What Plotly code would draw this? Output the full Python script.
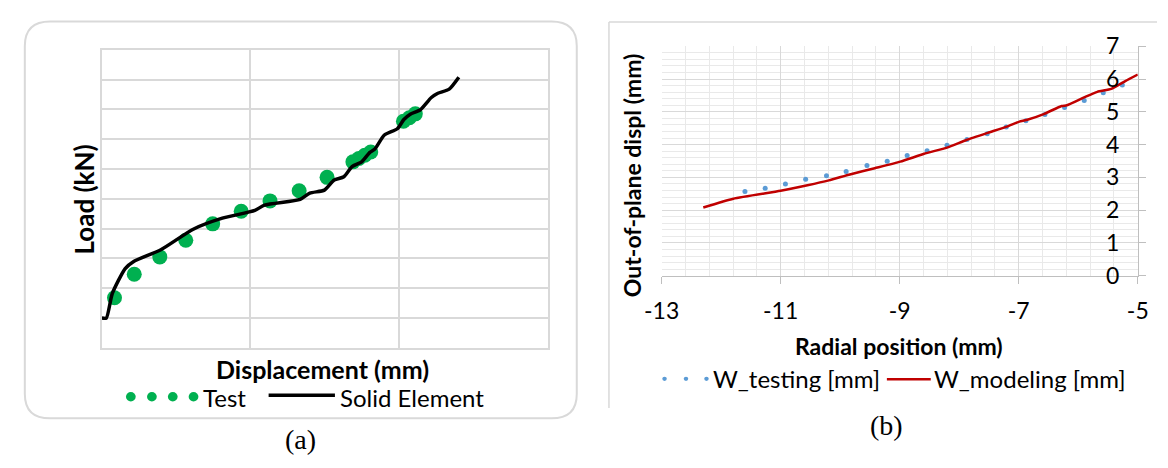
import plotly.graph_objects as go

W, H = 1168, 468

# ---- (a) load vs displacement ----
disp_test = [0.085, 0.218, 0.390, 0.565, 0.746, 0.938, 1.132, 1.328, 1.516,
             1.690, 1.730, 1.770, 1.810, 2.030, 2.070, 2.110]
load_test = [1.68, 2.47, 3.05, 3.61, 4.16, 4.58, 4.93, 5.27, 5.72,
             6.24, 6.35, 6.46, 6.57, 7.60, 7.72, 7.85]

disp_solid = [0.0, 0.030, 0.070, 0.157, 0.212, 0.397, 0.615, 0.811, 1.030, 1.095,
              1.335, 1.400, 1.498, 1.564, 1.629, 1.684, 1.749, 1.804, 1.836, 1.902,
              1.989, 2.033, 2.076, 2.142, 2.218, 2.262, 2.338, 2.403]
load_solid = [1.00, 1.00, 1.82, 2.66, 2.89, 3.29, 3.98, 4.35, 4.61, 4.79,
              4.98, 5.19, 5.29, 5.63, 5.74, 6.08, 6.24, 6.56, 6.66, 7.14,
              7.35, 7.66, 7.84, 7.98, 8.40, 8.54, 8.68, 9.08]

# ---- (b) out-of-plane displacement vs radial position ----
r_test = [-11.60, -11.26, -10.92, -10.58, -10.23, -9.90, -9.55, -9.21, -8.875, -8.54,
          -8.205, -7.87, -7.53, -7.21, -6.88, -6.56, -6.23, -5.90, -5.58, -5.26, -4.93]
w_test = [2.57, 2.67, 2.80, 2.94, 3.05, 3.18, 3.36, 3.49, 3.67, 3.81,
          3.98, 4.16, 4.33, 4.54, 4.73, 4.92, 5.13, 5.35, 5.58, 5.82, 6.04]

r_model = [-12.30, -11.795, -11.00, -10.55, -10.19, -9.837, -9.42, -8.99, -8.59, -8.205,
           -7.88, -7.52, -7.20, -6.99, -6.87, -6.57, -6.28, -6.19, -5.89, -5.68,
           -5.445, -5.21, -5.00]
w_model = [2.08, 2.35, 2.59, 2.76, 2.91, 3.09, 3.28, 3.48, 3.72, 3.91,
           4.14, 4.36, 4.55, 4.70, 4.75, 4.94, 5.18, 5.20, 5.45, 5.61,
           5.70, 5.94, 6.14]

r_ticks = [-13, -11, -9, -7, -5]
r_ticklabels = ["-13", "-11", "-9", "-7", "-5"]

GREEN = "#00B050"
BLUE = "#5B9BD5"
RED = "#C00000"
GRID = "#d9d9d9"
MINOR = "#e9e9e9"
AXIS = "#bfbfbf"
SANS = "Lato"
SERIF = "Liberation Serif"


def fx(x):
    return x / W


def fy(y):
    return 1 - y / H


fig = go.Figure()

fig.add_trace(go.Scatter(x=disp_test, y=load_test, mode="markers", name="Test",
                         marker=dict(color=GREEN, size=15), xaxis="x", yaxis="y",
                         showlegend=False))
fig.add_trace(go.Scatter(x=disp_solid, y=load_solid, mode="lines", name="Solid Element",
                         line=dict(color="black", width=3.5, shape="spline", smoothing=0.6),
                         xaxis="x", yaxis="y", showlegend=False))
fig.add_trace(go.Scatter(x=r_test, y=w_test, mode="markers", name="W_testing [mm]",
                         marker=dict(color=BLUE, size=5), xaxis="x2", yaxis="y2",
                         cliponaxis=False, showlegend=False))
fig.add_trace(go.Scatter(x=r_model, y=w_model, mode="lines", name="W_modeling [mm]",
                         line=dict(color=RED, width=2.5, shape="spline", smoothing=0.5),
                         xaxis="x2", yaxis="y2", showlegend=False))

fig.update_layout(
    width=W, height=H,
    margin=dict(l=0, r=0, t=0, b=0),
    paper_bgcolor="white", plot_bgcolor="white",
    font=dict(family=SANS, color="black"),
    xaxis=dict(domain=[fx(86), fx(543)], range=[0, 3], dtick=1, tick0=0,
               showticklabels=False, ticks="", showgrid=True, gridcolor=GRID, gridwidth=2,
               showline=True, mirror=True, linecolor=GRID, linewidth=2, zeroline=False,
               fixedrange=True),
    yaxis=dict(domain=[fy(354), fy(37)], range=[0, 10], dtick=1, tick0=0,
               showticklabels=False, ticks="", showgrid=True, gridcolor=GRID, gridwidth=2,
               showline=True, mirror=True, linecolor=GRID, linewidth=2, zeroline=False,
               anchor="x", fixedrange=True),
    xaxis2=dict(domain=[fx(660), fx(1148.3)], range=[-13, -5],
                tickmode="array", tickvals=r_ticks, ticktext=r_ticklabels,
                anchor="y2", showgrid=True, gridcolor=GRID, gridwidth=1,
                minor=dict(tickmode="linear", tick0=-13, dtick=0.4, showgrid=True,
                           gridcolor=MINOR, gridwidth=1, ticks=""),
                ticks="outside", ticklen=7, tickcolor=AXIS, tickwidth=1,
                showline=True, linecolor=AXIS, linewidth=1, zeroline=False,
                tickfont=dict(family=SANS, size=23, color="black"),
                ticklabelstandoff=8, fixedrange=True),
    yaxis2=dict(domain=[fy(277.3), fy(33.3)], range=[0, 7], dtick=1, tick0=0,
                anchor="x2", side="right", showgrid=True, gridcolor=GRID, gridwidth=1,
                minor=dict(dtick=0.2, showgrid=True, gridcolor=MINOR, gridwidth=1, ticks=""),
                ticks="outside", ticklen=7, tickcolor=AXIS, tickwidth=1,
                showline=True, linecolor=AXIS, linewidth=1, zeroline=False,
                ticklabelposition="inside", ticklabeloverflow="allow",
                tickfont=dict(family=SANS, size=23, color="black"),
                ticklabelstandoff=20, fixedrange=True),
)

shapes = []
# rounded frame around panel (a)
x0, y0, x1, y1, r = 7, 7, 573, 429, 26
path = (f"M {fx(x0 + r)},{fy(y0)} L {fx(x1 - r)},{fy(y0)} "
        f"Q {fx(x1)},{fy(y0)} {fx(x1)},{fy(y0 + r)} L {fx(x1)},{fy(y1 - r)} "
        f"Q {fx(x1)},{fy(y1)} {fx(x1 - r)},{fy(y1)} L {fx(x0 + r)},{fy(y1)} "
        f"Q {fx(x0)},{fy(y1)} {fx(x0)},{fy(y1 - r)} L {fx(x0)},{fy(y0 + r)} "
        f"Q {fx(x0)},{fy(y0)} {fx(x0 + r)},{fy(y0)} Z")
shapes.append(dict(type="path", xref="paper", yref="paper", path=path,
                   line=dict(color=GRID, width=2), layer="below"))
# frame edges of panel (b)
shapes.append(dict(type="line", xref="paper", yref="paper", x0=fx(606), x1=fx(1168),
                   y0=fy(7.5), y1=fy(7.5), line=dict(color=GRID, width=1.5)))
shapes.append(dict(type="line", xref="paper", yref="paper", x0=fx(606), x1=fx(606),
                   y0=fy(7.5), y1=fy(418), line=dict(color=GRID, width=1.5)))

# legend keys
for cx in [115.7, 137.3, 158.7, 180.0]:
    shapes.append(dict(type="circle", xref="paper", yref="paper",
                       x0=fx(cx - 5), x1=fx(cx + 5), y0=fy(406 - 5), y1=fy(406 + 5),
                       fillcolor=GREEN, line=dict(width=0)))
shapes.append(dict(type="line", xref="paper", yref="paper", x0=fx(257), x1=fx(325),
                   y0=fy(404.5), y1=fy(404.5), line=dict(color="black", width=3.5)))
for cx in [663, 685, 706]:
    shapes.append(dict(type="circle", xref="paper", yref="paper",
                       x0=fx(cx - 2.3), x1=fx(cx + 2.3), y0=fy(387 - 2.3), y1=fy(387 + 2.3),
                       fillcolor=BLUE, line=dict(width=0)))
shapes.append(dict(type="line", xref="paper", yref="paper", x0=fx(891), x1=fx(936),
                   y0=fy(387.3), y1=fy(387.3), line=dict(color=RED, width=2.5)))
fig.update_layout(shapes=shapes)


def label(text, x, y, size, bold=False, angle=0, anchor="center", family=SANS):
    fig.add_annotation(text=f"<b>{text}</b>" if bold else text, xref="paper", yref="paper",
                       x=fx(x), y=fy(y), xanchor=anchor, yanchor="middle", showarrow=False,
                       textangle=angle, borderpad=0,
                       font=dict(family=family, size=size, color="black"))


label("Load (kN)", 68, 196, 26, bold=True, angle=-90)
label("Displacement (mm)", 312, 376, 25, bold=True)
label("Test", 189, 407, 24, anchor="left")
label("Solid Element", 329, 407, 24, anchor="left")
label("(a)", 290, 451, 28, family=SERIF)

label("Out-of-plane displ (mm)", 629, 171, 23, bold=True, angle=-90)
label("Radial position (mm)", 903, 352, 23, bold=True)
label("W_testing [mm]", 712, 387, 24, anchor="left")
label("W_modeling [mm]", 938, 387, 24, anchor="left")
label("(b)", 891, 437, 28, family=SERIF)

# page without default body margin so the figure sits at the window origin
fig.write_html("out.html",
               post_script="document.body.style.margin='0';document.body.style.overflow='hidden';")
